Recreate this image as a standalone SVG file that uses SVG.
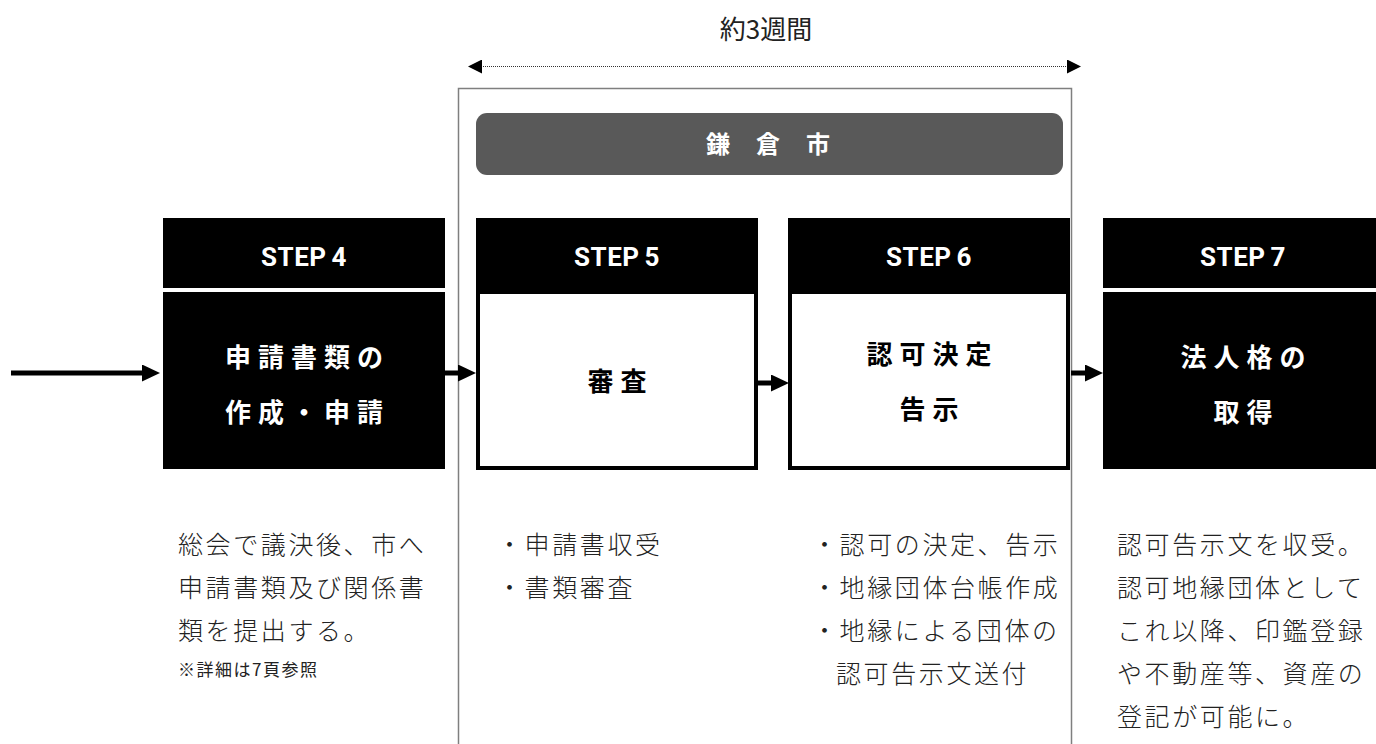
<svg xmlns="http://www.w3.org/2000/svg" width="1376" height="744" viewBox="0 0 1376 744">
<style>
.jp{font-family:"Noto Sans CJK JP","Noto Sans CJK SC",sans-serif;}
.step{font-family:Roboto,"Liberation Sans",sans-serif;font-weight:700;font-size:26px;fill:#fff;text-anchor:middle;letter-spacing:0.5px;word-spacing:-2px;}
.title{font-family:"Noto Sans CJK JP",sans-serif;font-weight:700;font-size:26px;fill:#fff;text-anchor:middle;letter-spacing:7px;}
.title.dark{fill:#000;}
.desc{font-family:"Noto Sans CJK JP",sans-serif;font-weight:300;font-size:25px;fill:#222;letter-spacing:2.6px;}
.small{font-family:"Noto Sans CJK JP",sans-serif;font-size:17px;fill:#222;letter-spacing:1.5px;}
.hdr{fill:#000;}
.conn{stroke:#000;stroke-width:5;fill:none;}
</style>
<defs>
<marker id="ah" markerUnits="userSpaceOnUse" markerWidth="18" markerHeight="17" refX="2" refY="8.5" orient="auto">
<path d="M0,0 L18,8.5 L0,17 z" fill="#000"/>
</marker>
<marker id="dh" markerUnits="userSpaceOnUse" markerWidth="14" markerHeight="14" refX="1" refY="7" orient="auto-start-reverse">
<path d="M0,0 L14,7 L0,14 z" fill="#000"/>
</marker>
</defs>
<rect width="1376" height="744" fill="#fff"/>

<g id="period">
<text class="jp" x="766" y="39" font-size="26" text-anchor="middle" fill="#222">約3週間</text>
<line x1="481" y1="66.5" x2="1068" y2="66.5" stroke="#333" stroke-width="1" stroke-dasharray="1,1" marker-start="url(#dh)" marker-end="url(#dh)"/>
</g>

<g id="city-frame">
<rect x="458.5" y="88.5" width="613" height="700" fill="none" stroke="#7f7f7f" stroke-width="1.5"/>
<rect x="476" y="113" width="587" height="62" rx="11" fill="#595959"/>
<g class="jp" font-size="24" font-weight="700" fill="#fff" text-anchor="middle">
<text x="718" y="153">鎌</text>
<text x="768" y="153">倉</text>
<text x="818" y="153">市</text>
</g>
</g>

<g id="connectors">
<line class="conn" x1="11" y1="373" x2="144" y2="373" marker-end="url(#ah)"/>
<line class="conn" x1="445" y1="373" x2="460" y2="373" marker-end="url(#ah)"/>
<line class="conn" x1="758" y1="383" x2="773" y2="383" marker-end="url(#ah)"/>
<line class="conn" x1="1071" y1="373" x2="1087" y2="373" marker-end="url(#ah)"/>
</g>

<g id="step4">
<rect class="hdr" x="163" y="218" width="282" height="70"/>
<text class="step" x="304" y="266">STEP 4</text>
<rect x="163" y="292" width="282" height="177" fill="#000"/>
<text class="title" x="307.5" y="367">申請書類の</text>
<text class="title" x="307.5" y="422">作成・申請</text>
<text class="desc" x="178" y="554">総会で議決後、市へ</text>
<text class="desc" x="178" y="597">申請書類及び関係書</text>
<text class="desc" x="178" y="640">類を提出する。</text>
<text class="small" x="178" y="676">※詳細は7頁参照</text>
</g>

<g id="step5">
<rect class="hdr" x="476" y="218" width="282" height="74"/>
<text class="step" x="617" y="266">STEP 5</text>
<rect x="478" y="292" width="278" height="176" fill="#fff" stroke="#000" stroke-width="4"/>
<text class="title dark" x="620.5" y="391">審査</text>
<text class="desc" x="497" y="554">・申請書収受</text>
<text class="desc" x="497" y="597">・書類審査</text>
</g>

<g id="step6">
<rect class="hdr" x="788" y="218" width="282" height="74"/>
<text class="step" x="929" y="266">STEP 6</text>
<rect x="790" y="292" width="278" height="176" fill="#fff" stroke="#000" stroke-width="4"/>
<text class="title dark" x="932.5" y="364">認可決定</text>
<text class="title dark" x="932.5" y="419">告示</text>
<text class="desc" x="812" y="554">・認可の決定、告示</text>
<text class="desc" x="812" y="597">・地縁団体台帳作成</text>
<text class="desc" x="812" y="640">・地縁による団体の</text>
<text class="desc" x="836" y="683">認可告示文送付</text>
</g>

<g id="step7">
<rect class="hdr" x="1103" y="218" width="282" height="70"/>
<text class="step" x="1243" y="266">STEP 7</text>
<rect x="1103" y="292" width="282" height="177" fill="#000"/>
<text class="title" x="1246.5" y="367">法人格の</text>
<text class="title" x="1246.5" y="422">取得</text>
<text class="desc" x="1117" y="554">認可告示文を収受。</text>
<text class="desc" x="1117" y="597">認可地縁団体として</text>
<text class="desc" x="1117" y="640">これ以降、印鑑登録</text>
<text class="desc" x="1117" y="683">や不動産等、資産の</text>
<text class="desc" x="1117" y="726">登記が可能に。</text>
</g>
</svg>
